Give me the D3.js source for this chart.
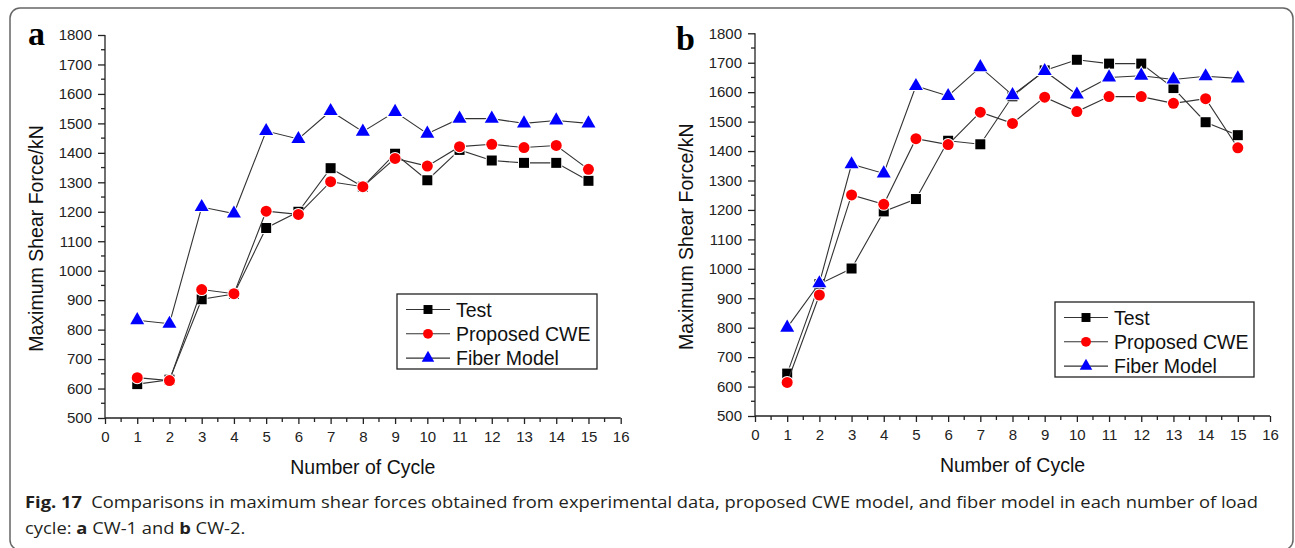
<!DOCTYPE html>
<html><head><meta charset="utf-8">
<script src="https://cdn.jsdelivr.net/npm/d3@7"></script>
<style>html,body{margin:0;padding:0;background:#fff;} svg{display:block;}</style>
</head><body>
<svg id="c" width="1295" height="548"></svg>
<script>
const cycles = [1,2,3,4,5,6,7,8,9,10,11,12,13,14,15];
const xTicks = d3.range(0,17,1);
const yTicks = d3.range(500,1801,100);
const seriesNames = ["Test","Proposed CWE","Fiber Model"];
// Panel a (CW-1)
const aTest  = [615,630,903,921,1145,1200,1348,1285,1397,1307,1410,1374,1366,1366,1305];
const aCWE   = [637,627,936,922,1202,1191,1302,1285,1381,1355,1421,1429,1418,1425,1344];
const aFiber = [832,820,1216,1194,1474,1447,1542,1472,1539,1465,1516,1516,1500,1510,1500];
// Panel b (CW-2)
const bTest  = [644,948,1001,1195,1237,1435,1423,1586,1674,1710,1697,1697,1614,1498,1454];
const bCWE   = [614,911,1251,1219,1442,1422,1532,1494,1583,1534,1585,1585,1562,1578,1411];
const bFiber = [800,951,1355,1324,1621,1587,1685,1590,1672,1592,1650,1656,1643,1654,1647];

const colors = ["#000000","#ff0000","#0000ff"];
const symbols = [d3.symbolSquare, d3.symbolCircle, d3.symbolTriangle];
const symSizes = [100, 95, 85];
const FONT = "'Liberation Sans', Arial, sans-serif";

const svg = d3.select("#c");
svg.append("rect").attr("x",10).attr("y",8).attr("width",1283).attr("height",542)
  .attr("rx",10).attr("fill","none").attr("stroke","#666").attr("stroke-width",1.5);

const panels = [
  {letter:"a", x0:105, x1:620.7, yT:35, yB:418, data:[aTest,aCWE,aFiber],
   letterX:28, letterY:45, ylabX:43, xlabY:474, leg:{x:397,y:294,w:200,h:75}},
  {letter:"b", x0:755, x1:1270, yT:33.3, yB:416, data:[bTest,bCWE,bFiber],
   letterX:676, letterY:50, ylabX:693, xlabY:472, leg:{x:1055,y:302,w:199,h:75}}
];

panels.forEach(p => {
  const x = d3.scaleLinear().domain([0,16]).range([p.x0,p.x1]);
  const y = d3.scaleLinear().domain([500,1800]).range([p.yB,p.yT]);
  const g = svg.append("g");

  // y axis
  const ya = g.append("g").attr("transform",`translate(${p.x0},0)`)
    .call(d3.axisLeft(y).tickValues(yTicks).tickSize(7).tickPadding(6).tickFormat(d3.format("d")));
  ya.select(".domain").attr("stroke","#222").attr("stroke-width",1.3).attr("d",`M0,${p.yB}V${p.yT}`);
  ya.selectAll(".tick line").attr("stroke","#222").attr("stroke-width",1.3);
  ya.selectAll(".tick text").attr("font-family",FONT).attr("font-size",15).attr("fill","#222");
  ya.selectAll(".minor").data(d3.range(550,1800,100)).enter().append("line")
    .attr("x1",-4).attr("x2",0).attr("y1",d=>y(d)).attr("y2",d=>y(d)).attr("stroke","#222").attr("stroke-width",1.3);

  // x axis
  const xa = g.append("g").attr("transform",`translate(0,${p.yB})`)
    .call(d3.axisBottom(x).tickValues(xTicks).tickSize(6).tickPadding(7).tickFormat(d3.format("d")));
  xa.select(".domain").attr("stroke","#222").attr("stroke-width",1.3).attr("d",`M${p.x0},0H${p.x1}`);
  xa.selectAll(".tick line").attr("stroke","#222").attr("stroke-width",1.3);
  xa.selectAll(".tick text").attr("font-family",FONT).attr("font-size",15).attr("fill","#222");
  xa.selectAll(".minor").data(d3.range(0.5,16,1)).enter().append("line")
    .attr("y1",0).attr("y2",4).attr("x1",d=>x(d)).attr("x2",d=>x(d)).attr("stroke","#222").attr("stroke-width",1.3);

  // labels
  g.append("text").attr("x",p.letterX).attr("y",p.letterY).text(p.letter)
    .attr("font-family","'Liberation Serif', 'Times New Roman', serif").attr("font-weight","bold").attr("font-size",34).attr("fill","#000");
  g.append("text").attr("transform",`translate(${p.ylabX},${(p.yT+p.yB)/2+12}) rotate(-90)`)
    .attr("text-anchor","middle").text("Maximum Shear Force/kN")
    .attr("font-family",FONT).attr("font-size",19.5).attr("fill","#111");
  g.append("text").attr("x",(p.x0+p.x1)/2).attr("y",p.xlabY).attr("text-anchor","middle").text("Number of Cycle")
    .attr("font-family",FONT).attr("font-size",19.5).attr("fill","#111");

  // series
  const line = d3.line().x((d,i)=>x(cycles[i])).y(d=>y(d));
  p.data.forEach((vals,si) => {
    g.append("path").attr("d",line(vals)).attr("fill","none").attr("stroke","#333").attr("stroke-width",1.1);
    g.selectAll(null).data(vals).enter().append("path")
      .attr("transform",(d,i)=>`translate(${x(cycles[i])},${y(d)})`)
      .attr("d",d3.symbol().type(symbols[si]).size(symSizes[si]))
      .attr("fill",colors[si]).attr("stroke","#fff").attr("stroke-width",2).attr("paint-order","stroke");
  });

  // legend
  const L = p.leg;
  const lg = g.append("g");
  lg.append("rect").attr("x",L.x).attr("y",L.y).attr("width",L.w).attr("height",L.h)
    .attr("fill","#fff").attr("stroke","#222").attr("stroke-width",1.3);
  seriesNames.forEach((nm,si) => {
    const cy = L.y + 15.5 + si*24.3;
    lg.append("line").attr("x1",L.x+9).attr("x2",L.x+53).attr("y1",cy).attr("y2",cy).attr("stroke","#333").attr("stroke-width",1.1);
    lg.append("path").attr("transform",`translate(${L.x+31},${cy})`)
      .attr("d",d3.symbol().type(symbols[si]).size(symSizes[si]*0.8)).attr("fill",colors[si]);
    lg.append("text").attr("x",L.x+59).attr("y",cy+7).text(nm)
      .attr("font-family",FONT).attr("font-size",19.5).attr("fill","#111");
  });
});

// caption
const cap1 = svg.append("text").attr("x",25).attr("y",508)
  .attr("font-family","'Open Sans', 'Noto Sans', sans-serif").attr("font-size",16).attr("fill","#231f20");
cap1.append("tspan").attr("font-weight","bold").text("Fig. 17");
cap1.append("tspan").text("\u2002Comparisons in maximum shear forces obtained from experimental data, proposed CWE model, and fiber model in each number of load");
const w1 = cap1.node().getComputedTextLength();
cap1.attr("textLength",1233).attr("lengthAdjust","spacingAndGlyphs");
const cap2 = svg.append("text").attr("x",25).attr("y",534)
  .attr("font-family","'Open Sans', 'Noto Sans', sans-serif").attr("font-size",16).attr("fill","#231f20");
cap2.append("tspan").text("cycle: ");
cap2.append("tspan").attr("font-weight","bold").text("a");
cap2.append("tspan").text(" CW-1 and ");
cap2.append("tspan").attr("font-weight","bold").text("b");
cap2.append("tspan").text(" CW-2.");
const w2 = cap2.node().getComputedTextLength();
cap2.attr("textLength", w2 * 1233 / w1).attr("lengthAdjust","spacingAndGlyphs");
</script>
</body></html>
